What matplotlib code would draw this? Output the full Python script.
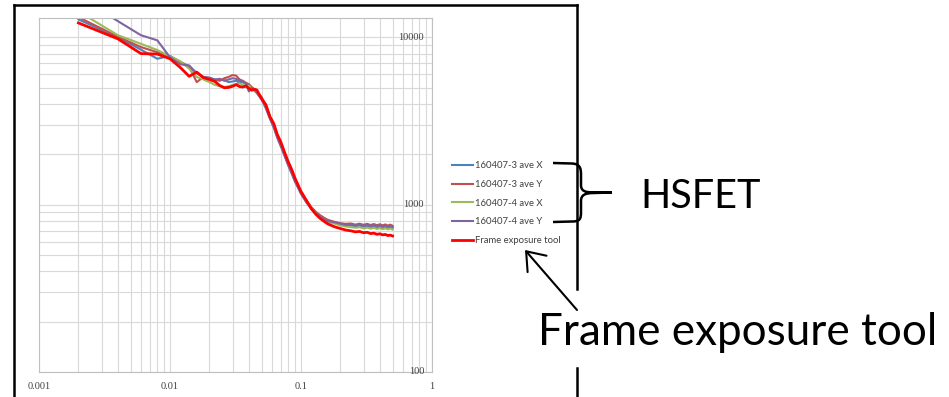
import matplotlib
matplotlib.use("Agg")
import matplotlib.pyplot as plt
import matplotlib.transforms as mtransforms
from matplotlib.path import Path
from matplotlib.patches import PathPatch
from matplotlib.ticker import LogLocator, NullFormatter

# frequency (x) shared by all series
freq = [0.002, 0.004, 0.006, 0.008, 0.010, 0.012, 0.014, 0.016, 0.018, 0.020,
        0.022, 0.024, 0.026, 0.028, 0.030, 0.032, 0.034, 0.036, 0.038, 0.040,
        0.042, 0.044, 0.046,
        0.050, 0.054, 0.058, 0.062, 0.066, 0.070, 0.075, 0.080, 0.085, 0.090,
        0.095, 0.10, 0.11, 0.12, 0.13, 0.14, 0.15, 0.16,
        0.18, 0.20, 0.22, 0.24, 0.26, 0.28, 0.30, 0.32, 0.34, 0.36, 0.38, 0.40,
        0.42, 0.44, 0.46, 0.48, 0.50]

ave3_x = [12800, 10000, 8450, 7450, 7750, 7100, 6600, 6150, 5750, 5650, 5500, 5600,
          5550, 5400, 5450, 5500, 5350, 5400, 5250, 5200, 5000, 4850, 4700,
          4350, 3850, 3300, 2950, 2550, 2280, 1980, 1730, 1550, 1390, 1270, 1170,
          1040, 950, 890, 850, 820, 800,
          780, 765, 752, 748, 742, 750, 738, 746, 735, 744, 732, 741, 730, 739, 728, 737, 726]
ave3_y = [13200, 10100, 8750, 8150, 7700, 7150, 6700, 5400, 5800, 5700, 5600, 5500,
          5700, 5800, 5950, 5900, 5600, 5500, 5350, 5250, 5050, 4900, 4700,
          4400, 3900, 3350, 3000, 2600, 2300, 2000, 1750, 1570, 1410, 1290, 1190,
          1060, 965, 905, 865, 835, 812,
          790, 775, 768, 772, 760, 770, 758, 768, 756, 766, 754, 764, 752, 762, 750, 760, 748]
ave4_x = [14300, 10300, 9150, 8400, 7700, 7200, 6500, 5800, 5600, 5400, 5200, 5100,
          5050, 5100, 5200, 5250, 5300, 5200, 5100, 5150, 4950, 4800, 4650,
          4300, 3800, 3300, 2920, 2530, 2270, 1990, 1750, 1570, 1400, 1280, 1180,
          1040, 950, 885, 845, 812, 792,
          770, 752, 740, 735, 728, 733, 722, 729, 719, 727, 716, 724, 714, 722, 712, 720, 710]
ave4_y = [17500, 12500, 10300, 9600, 7600, 6900, 6800, 6100, 5800, 5750, 5600, 5650,
          5500, 5600, 5700, 5650, 5500, 5450, 5300, 4750, 5000, 4850, 4650,
          4250, 3750, 3250, 2880, 2500, 2240, 1950, 1710, 1530, 1370, 1260, 1160,
          1030, 945, 885, 848, 818, 798,
          785, 770, 758, 762, 752, 760, 748, 757, 746, 755, 744, 753, 742, 751, 740, 749, 738]
frame_tool = [12200, 9800, 8000, 7950, 7450, 6600, 5850, 6200, 5750, 5600, 5450, 5150,
              5000, 5020, 5100, 5220, 5080, 5050, 5120, 4950, 4830, 4900, 4850,
              4300, 3950, 3350, 3050, 2620, 2380, 2050, 1800, 1620, 1440, 1310, 1200,
              1060, 945, 875, 828, 795, 768,
              738, 720, 705, 698, 688, 692, 680, 684, 672, 676, 665, 670, 660, 664, 654, 658, 650]

labels = ["160407-3 ave X", "160407-3 ave Y", "160407-4 ave X", "160407-4 ave Y",
          "Frame exposure tool"]
colors = ["#4F81BD", "#C0504D", "#9BBB59", "#8064A2", "#FF0000"]

xticks = [0.001, 0.01, 0.1, 1]
xlabels = ["0.001", "0.01", "0.1", "1"]
yticks = [100, 1000, 10000]
ylabels = ["100", "1000", "10000"]

W, H = 949, 397
fig = plt.figure(figsize=(W / 100, H / 100), dpi=100)
ax = fig.add_axes([39 / W, 1 - 372 / H, (432 - 39) / W, (372 - 18.3) / H])

series = [ave3_x, ave3_y, ave4_x, ave4_y, frame_tool]
for vals, lab, col in zip(series, labels, colors):
    lw = 2.0 if lab == "Frame exposure tool" else 1.5
    ax.plot(freq, vals, color=col, lw=lw, label=lab)

ax.set_xscale("log")
ax.set_yscale("log")
ax.set_xlim(0.001, 1)
ax.set_ylim(100, 13000)
for a in (ax.xaxis, ax.yaxis):
    a.set_major_locator(LogLocator(base=10, numticks=10))
    a.set_minor_locator(LogLocator(base=10, subs=range(2, 10), numticks=30))
    a.set_minor_formatter(NullFormatter())
ax.grid(which="both", color="#D9D9D9", lw=0.8)
ax.set_axisbelow(True)
ax.tick_params(which="both", length=0)
ax.set_xticks(xticks, xlabels, family="Liberation Serif", fontsize=7.5, color="#404040")
ax.tick_params(axis="x", pad=7)
ax.yaxis.set_major_formatter(NullFormatter())
trans = mtransforms.blended_transform_factory(ax.transAxes, ax.transData)
for v, s in zip(yticks, ylabels):
    ax.text(0.98, v, s, transform=trans, ha="right", va="center",
            family="Liberation Serif", fontsize=7.5, color="#404040")
for sp in ax.spines.values():
    sp.set_color("#BFBFBF")
    sp.set_linewidth(0.8)

leg = ax.legend(loc="upper left", bbox_to_anchor=(452 / W, 1 - 161 / H),
                bbox_transform=fig.transFigure, frameon=False,
                prop={"family": "Lato", "size": 6.8}, handlelength=2.2,
                handletextpad=0.25, labelspacing=1.04, borderpad=0, borderaxespad=0)
for t in leg.get_texts():
    t.set_color("#404040")

# overlay in pixel coords for the slide annotations
ov = fig.add_axes([0, 0, 1, 1])
ov.set_xlim(0, W)
ov.set_ylim(H, 0)
ov.axis("off")
ov.patch.set_alpha(0)

kw = dict(color="black", lw=1.8, solid_capstyle="projecting")
ov.plot([14.5, 14.5], [5, H], **kw)
ov.plot([14.5, 577.5], [5, 5], **kw)
ov.plot([577.5, 577.5], [5, 289], **kw)
ov.plot([577.5, 577.5], [368, H], **kw)

verts = [(553, 163), (572, 163.5), (580, 164), (581, 168), (581, 175),
         (581, 185), (581, 191), (585, 192.5), (594, 192.5), (612, 192.5),
         (594, 193), (585, 193), (581, 195), (581, 201),
         (581, 212), (581, 219), (580, 221.5), (572, 221.5), (553, 222)]
codes = [Path.MOVETO, Path.LINETO, Path.CURVE4, Path.CURVE4, Path.CURVE4,
         Path.LINETO, Path.CURVE4, Path.CURVE4, Path.CURVE4, Path.LINETO,
         Path.LINETO, Path.CURVE4, Path.CURVE4, Path.CURVE4,
         Path.LINETO, Path.CURVE4, Path.CURVE4, Path.CURVE4, Path.LINETO]
ov.add_patch(PathPatch(Path(verts, codes), fill=False, lw=1.8, color="black"))

ov.annotate("", xy=(525, 250), xytext=(577, 310),
            arrowprops=dict(arrowstyle="->,head_length=0.4,head_width=0.3",
                            lw=1.5, color="black", mutation_scale=30,
                            shrinkA=0, shrinkB=0))

ov.text(640, 208, "HSFET", ha="left", va="baseline", family="Lato", fontsize=28.5)
ov.text(538, 345, "Frame exposure tool", ha="left", va="baseline", family="Lato", fontsize=31.7)

fig.savefig("out.png", dpi=100)
